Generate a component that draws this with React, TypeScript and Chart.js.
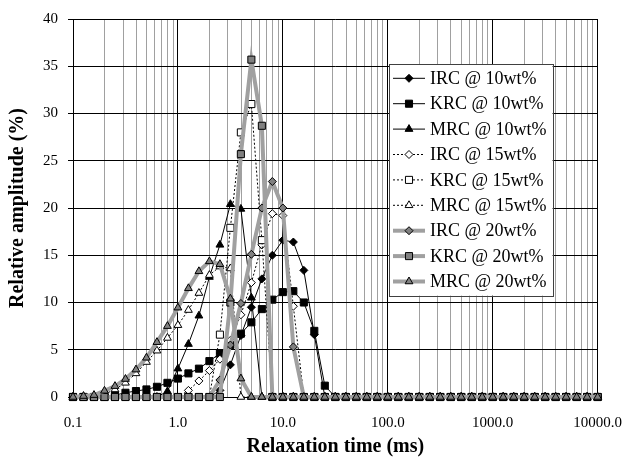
import React, { useEffect, useRef } from 'react';
import { Chart, registerables } from 'chart.js';

Chart.register(...registerables);

// Relaxation times (ms), 10 points per decade
const RELAXATION_TIMES = [
  0.1, 0.1259, 0.1585, 0.1995, 0.2512, 0.3162, 0.3981, 0.5012, 0.631, 0.7943,
  1, 1.259, 1.585, 1.995, 2.512, 3.162, 3.981, 5.012, 6.31, 7.943,
  10, 12.59, 15.85, 19.95, 25.12, 31.62, 39.81, 50.12, 63.1, 79.43,
  100, 125.9, 158.5, 199.5, 251.2, 316.2, 398.1, 501.2, 631, 794.3,
  1000, 1259, 1585, 1995, 2512, 3162, 3981, 5012, 6310, 7943,
  10000,
];

const SERIES_NAMES = [
  'IRC @ 10wt%', 'KRC @ 10wt%', 'MRC @ 10wt%',
  'IRC @ 15wt%', 'KRC @ 15wt%', 'MRC @ 15wt%',
  'IRC @ 20wt%', 'KRC @ 20wt%', 'MRC @ 20wt%',
];

const IRC_10 = [
  0, 0, 0, 0, 0, 0, 0, 0, 0, 0,
  0, 0, 0, 0, 0.7, 3.4, 6.5, 9.5, 12.5, 15.0,
  16.6, 16.4, 13.4, 6.6, 0, 0, 0, 0, 0, 0,
  0, 0, 0, 0, 0, 0, 0, 0, 0, 0,
  0, 0, 0, 0, 0, 0, 0, 0, 0, 0,
  0,
];
const KRC_10 = [
  0, 0, 0, 0, 0.2, 0.45, 0.63, 0.8, 1.08, 1.5,
  1.95, 2.5, 3.0, 3.8, 4.6, 5.5, 6.7, 7.9, 9.3, 10.3,
  11.1, 11.2, 10.0, 7.0, 1.2, 0, 0, 0, 0, 0,
  0, 0, 0, 0, 0, 0, 0, 0, 0, 0,
  0, 0, 0, 0, 0, 0, 0, 0, 0, 0,
  0,
];
const MRC_10 = [
  0, 0, 0, 0, 0, 0, 0, 0, 0, 0.6,
  3.0, 5.6, 8.6, 12.7, 16.1, 20.4, 19.9, 10.5, 0, 0,
  0, 0, 0, 0, 0, 0, 0, 0, 0, 0,
  0, 0, 0, 0, 0, 0, 0, 0, 0, 0,
  0, 0, 0, 0, 0, 0, 0, 0, 0, 0,
  0,
];
const IRC_15 = [
  0, 0, 0, 0, 0, 0, 0, 0, 0, 0,
  0, 0.7, 1.7, 2.8, 4.0, 6.0, 8.7, 12.1, 16.1, 19.4,
  19.2, 9.6, 0, 0, 0, 0, 0, 0, 0, 0,
  0, 0, 0, 0, 0, 0, 0, 0, 0, 0,
  0, 0, 0, 0, 0, 0, 0, 0, 0, 0,
  0,
];
const KRC_15 = [
  0, 0, 0, 0, 0, 0, 0, 0, 0, 0,
  0, 0, 0, 0, 6.6, 17.9, 28.0, 31.0, 16.6, 0,
  0, 0, 0, 0, 0, 0, 0, 0, 0, 0,
  0, 0, 0, 0, 0, 0, 0, 0, 0, 0,
  0, 0, 0, 0, 0, 0, 0, 0, 0, 0,
  0,
];
const MRC_15 = [
  0, 0, 0, 0.3, 0.8, 1.5, 2.5, 3.7, 4.9, 6.25,
  7.6, 9.2, 11.0, 12.9, 13.8, 13.6, 0, 0, 0, 0,
  0, 0, 0, 0, 0, 0, 0, 0, 0, 0,
  0, 0, 0, 0, 0, 0, 0, 0, 0, 0,
  0, 0, 0, 0, 0, 0, 0, 0, 0, 0,
  0,
];
const IRC_20 = [
  0, 0, 0, 0, 0, 0, 0, 0, 0, 0,
  0, 0, 0, 0, 1.8, 5.5, 9.9, 15.1, 20.0, 22.8,
  20.0, 5.3, 0, 0, 0, 0, 0, 0, 0, 0,
  0, 0, 0, 0, 0, 0, 0, 0, 0, 0,
  0, 0, 0, 0, 0, 0, 0, 0, 0, 0,
  0,
];
const KRC_20 = [
  0, 0, 0, 0, 0, 0, 0, 0, 0, 0,
  0, 0, 0, 0, 0, 10.0, 25.7, 35.7, 28.7, 0,
  0, 0, 0, 0, 0, 0, 0, 0, 0, 0,
  0, 0, 0, 0, 0, 0, 0, 0, 0, 0,
  0, 0, 0, 0, 0, 0, 0, 0, 0, 0,
  0,
];
const MRC_20 = [
  0, 0.1, 0.2, 0.65, 1.15, 1.9, 2.9, 4.15, 5.8, 7.5,
  9.45, 11.5, 13.3, 14.35, 14.05, 10.4, 1.95, 0, 0, 0,
  0, 0, 0, 0, 0, 0, 0, 0, 0, 0,
  0, 0, 0, 0, 0, 0, 0, 0, 0, 0,
  0, 0, 0, 0, 0, 0, 0, 0, 0, 0,
  0,
];

const SERIES_VALUES = [IRC_10, KRC_10, MRC_10, IRC_15, KRC_15, MRC_15, IRC_20, KRC_20, MRC_20];

const X_DECADES = [0.1, 1, 10, 100, 1000, 10000];
const X_TICK_LABELS = ['0.1', '1.0', '10.0', '100.0', '1000.0', '10000.0'];
const X_MINOR_MULTIPLIERS = [2, 3, 4, 5, 6, 7, 8, 9];

const FONT = '"Liberation Serif", "Times New Roman", serif';

type Style = {
  line: string; width: number; dash: number[]; fill: string; shape: string; radius: number;
};

const SHAPES = ['rectRot', 'rect', 'triangle'];
const RADII = [4, 5, 4.5];
const GROUP_STYLES = [
  { line: '#000000', width: 1, dash: [] as number[], fill: '#000000' },
  { line: '#000000', width: 1, dash: [2, 2], fill: '#ffffff' },
  { line: '#a0a0a0', width: 4, dash: [] as number[], fill: '#808080' },
];

function styleFor(i: number): Style {
  const g = GROUP_STYLES[Math.floor(i / 3)];
  return { ...g, shape: SHAPES[i % 3], radius: RADII[i % 3] };
}

function drawMarker(ctx: CanvasRenderingContext2D, shape: string, x: number, y: number, r: number, fill: string) {
  ctx.beginPath();
  if (shape === 'rect') {
    const s = r * Math.SQRT1_2;
    ctx.rect(x - s, y - s, 2 * s, 2 * s);
  } else if (shape === 'rectRot') {
    ctx.moveTo(x, y - r);
    ctx.lineTo(x + r, y);
    ctx.lineTo(x, y + r);
    ctx.lineTo(x - r, y);
    ctx.closePath();
  } else {
    let rad = 0;
    ctx.moveTo(x + Math.sin(rad) * r, y - Math.cos(rad) * r);
    rad += (2 * Math.PI) / 3;
    ctx.lineTo(x + Math.sin(rad) * r, y - Math.cos(rad) * r);
    rad += (2 * Math.PI) / 3;
    ctx.lineTo(x + Math.sin(rad) * r, y - Math.cos(rad) * r);
    ctx.closePath();
  }
  ctx.fillStyle = fill;
  ctx.fill();
  ctx.setLineDash([]);
  ctx.lineWidth = 1;
  ctx.strokeStyle = '#000000';
  ctx.stroke();
}

const boxLegend = {
  id: 'boxLegend',
  afterDatasetsDraw(chart: any) {
    const ctx: CanvasRenderingContext2D = chart.ctx;
    const area = chart.chartArea;
    const left = area.left + 316;
    const top = area.top + 45;
    const rowH = 25.4;
    ctx.save();
    ctx.font = `18px ${FONT}`;
    let maxW = 0;
    SERIES_NAMES.forEach((n) => { maxW = Math.max(maxW, ctx.measureText(n).width); });
    const textX = left + 41;
    const w = textX - left + maxW + 6;
    const h = rowH * SERIES_NAMES.length + 3;
    ctx.fillStyle = '#ffffff';
    ctx.fillRect(left, top, w, h);
    ctx.strokeStyle = '#404040';
    ctx.lineWidth = 1;
    ctx.strokeRect(Math.round(left) + 0.5, Math.round(top) + 0.5, Math.round(w), Math.round(h));
    SERIES_NAMES.forEach((name, i) => {
      const st = styleFor(i);
      const cy = top + 14.3 + i * rowH;
      ctx.beginPath();
      ctx.setLineDash(st.dash);
      ctx.strokeStyle = st.line;
      ctx.lineWidth = st.width;
      ctx.moveTo(left + 4, cy);
      ctx.lineTo(left + 36, cy);
      ctx.stroke();
      drawMarker(ctx, st.shape, left + 20, cy, st.radius, st.fill);
      ctx.fillStyle = '#000000';
      ctx.textBaseline = 'middle';
      ctx.textAlign = 'left';
      ctx.fillText(name, textX, cy + 1);
    });
    ctx.restore();
  },
};

export default function App() {
  const ref = useRef<HTMLCanvasElement | null>(null);

  useEffect(() => {
    if (!ref.current) return;
    const gridTicks: number[] = [];
    X_DECADES.forEach((d, i) => {
      gridTicks.push(d);
      if (i < X_DECADES.length - 1) X_MINOR_MULTIPLIERS.forEach((m) => gridTicks.push(d * m));
    });

    const datasets = SERIES_NAMES.map((name, i) => {
      const st = styleFor(i);
      return {
        label: name,
        data: RELAXATION_TIMES.map((t, j) => ({ x: t, y: SERIES_VALUES[i][j] })),
        borderColor: st.line,
        borderWidth: st.width,
        borderDash: st.dash,
        backgroundColor: st.fill,
        pointStyle: st.shape,
        pointRadius: st.radius,
        pointHoverRadius: st.radius,
        pointBackgroundColor: st.fill,
        pointBorderColor: '#000000',
        pointBorderWidth: 1,
        tension: 0,
        fill: false,
        clip: false as any,
        order: -i,
      };
    });

    const chart = new Chart(ref.current, {
      type: 'line',
      data: { datasets },
      plugins: [boxLegend],
      options: {
        responsive: false,
        animation: false,
        layout: { padding: { top: 15, right: 30, left: 0, bottom: 0 } },
        plugins: { legend: { display: false }, tooltip: { enabled: false } },
        scales: {
          x: {
            type: 'logarithmic',
            min: 0.1,
            max: 10000,
            afterBuildTicks: (scale: any) => {
              scale.ticks = gridTicks.map((v) => ({ value: v, major: X_DECADES.includes(v) }));
            },
            afterFit: (scale: any) => { scale.height = 67; },
            ticks: {
              autoSkip: false,
              maxRotation: 0,
              minRotation: 0,
              padding: 17,
              color: '#000000',
              font: { family: FONT, size: 15 },
              callback: (v: any) => {
                const k = X_DECADES.indexOf(Number(v));
                return k >= 0 ? X_TICK_LABELS[k] : '';
              },
            },
            grid: {
              drawTicks: false,
              color: (c: any) => (c.tick && X_DECADES.includes(c.tick.value) ? '#000000' : '#a0a0a0'),
              lineWidth: 1,
            },
            border: { display: false },
            title: {
              display: true,
              text: 'Relaxation time (ms)',
              color: '#000000',
              font: { family: FONT, size: 20, weight: 'bold' },
              padding: { top: 0, bottom: 5 },
            },
          },
          y: {
            min: 0,
            max: 40,
            afterFit: (scale: any) => { scale.width = 73; },
            ticks: {
              stepSize: 5,
              padding: 10,
              color: '#000000',
              font: { family: FONT, size: 15 },
            },
            grid: { color: '#000000', tickLength: 5, tickColor: '#000000', lineWidth: 1 },
            border: { color: '#000000' },
            title: {
              display: true,
              text: 'Relative amplitude (%)',
              color: '#000000',
              font: { family: FONT, size: 20, weight: 'bold' },
              padding: { top: 6, bottom: 0 },
            },
          },
        },
      } as any,
    });
    return () => chart.destroy();
  }, []);

  return (
    <div style={{ position: 'fixed', left: 0, top: 0, width: 639, height: 464, background: '#ffffff' }}>
      <canvas ref={ref} width={639} height={464} style={{ width: 639, height: 464, display: 'block' }} />
    </div>
  );
}
